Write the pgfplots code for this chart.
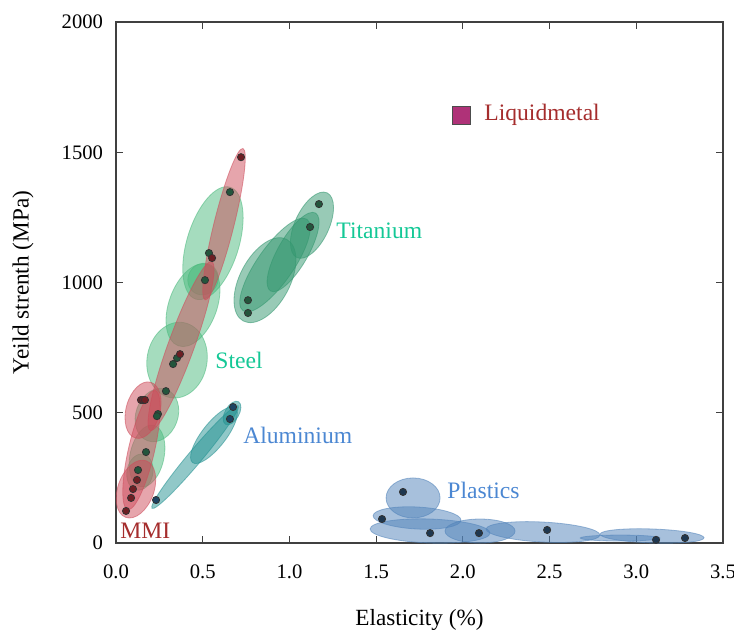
\documentclass[border=0pt]{standalone}
\usepackage{fontspec}
\setmainfont{Liberation Serif}
\usepackage{pgfplots}
\pgfplotsset{compat=1.18}

\definecolor{cred}{RGB}{205,75,90}
\definecolor{cgreen}{RGB}{75,185,125}
\definecolor{ctitan}{RGB}{50,150,110}
\definecolor{calu}{RGB}{35,145,145}
\definecolor{cplast}{RGB}{80,130,185}
\definecolor{dotgreen}{RGB}{35,85,60}
\definecolor{dotred}{RGB}{110,30,35}
\definecolor{dotblue}{RGB}{30,55,80}
\definecolor{labred}{RGB}{165,45,45}
\definecolor{labgreen}{RGB}{20,200,150}
\definecolor{labblue}{RGB}{75,135,210}
\definecolor{cliquid}{RGB}{175,50,120}

% ellipse region: colour, x, y, semi-minor (pt), aspect, angle
\newcommand{\Ell}[6]{%
  \addplot[only marks, mark=*, mark size=#4pt,
    mark options={rotate=#6, xscale=#5, fill=#1, draw=#1,
      fill opacity=0.5, draw opacity=0.55, line width=0.4pt}]
    coordinates {(#2,#3)};}

\begin{document}
\begin{tikzpicture}
\useasboundingbox (-58pt,-45pt) rectangle (309pt,271.5pt);
\begin{axis}[
  at={(0,0)}, anchor=south west,
  scale only axis, width=303.5pt, height=260.5pt,
  xmin=0, xmax=3.5, ymin=0, ymax=2000,
  xtick={0,0.5,1,1.5,2,2.5,3,3.5}, ytick={0,500,1000,1500,2000},
  tick align=inside, major tick length=3.5pt,
  axis line style={black!75, line width=0.7pt},
  tick style={black!75, line width=0.6pt},
  xticklabel style={yshift=-7.5pt, /pgf/number format/.cd, fixed, fixed zerofill, precision=1, assume math mode=true},
  yticklabel style={xshift=-3pt, /pgf/number format/.cd, fixed, 1000 sep={}, assume math mode=true},
  scaled ticks=false,
  ticklabel style={font=\fontsize{10.3}{12}\selectfont},
  xlabel={Elasticity (\%)}, ylabel={Yeild strenth (MPa)},
  label style={font=\fontsize{11.6}{13}\selectfont},
  xlabel style={at={(axis description cs:0.5,-0.148)}, anchor=center},
  ylabel style={at={(axis description cs:-0.153,0.5)}, anchor=center},
  clip=false,
]
% Plastics
\Ell{cplast}{1.811}{46}{6}{5}{-2}
\Ell{cplast}{1.736}{96}{5.5}{4}{-3}
\Ell{cplast}{2.099}{46}{6}{2.92}{0}
\Ell{cplast}{2.462}{42}{5}{5.7}{-3}
\Ell{cplast}{2.907}{19}{1.5}{13.3}{0}
\Ell{cplast}{3.091}{27}{3.5}{7.43}{-2}
\Ell{cplast}{1.713}{173}{10}{1.35}{0}
% Aluminium
\Ell{calu}{0.456}{330}{3.5}{9.57}{50}
\Ell{calu}{0.565}{414}{6}{2.9}{52}
\Ell{calu}{0.669}{499}{3.5}{1.86}{60}
% Titanium
\Ell{ctitan}{0.859}{1009}{12.5}{1.85}{62}
\Ell{ctitan}{0.917}{1067}{9}{3.1}{55}
\Ell{ctitan}{1.021}{1117}{7.5}{3.0}{60}
\Ell{ctitan}{1.130}{1220}{8.5}{2.1}{65}
% Steel
\Ell{cgreen}{0.559}{1151}{13}{2.25}{73}
\Ell{cgreen}{0.444}{913}{12}{1.8}{70}
\Ell{cgreen}{0.502}{1013}{7.5}{1.07}{60}
\Ell{cgreen}{0.352}{702}{15}{1.27}{80}
\Ell{cgreen}{0.236}{491}{10.5}{1.3}{70}
\Ell{cgreen}{0.179}{334}{8.5}{1.85}{78}
\Ell{cgreen}{0.138}{272}{6.5}{1.4}{80}
% MMI / red
\Ell{cred}{0.623}{1224}{5}{7.8}{76}
\Ell{cred}{0.375}{756}{6.5}{6.9}{70}
\Ell{cred}{0.156}{510}{8.5}{1.7}{75}
\Ell{cred}{0.147}{357}{6.5}{4.7}{77}
\Ell{cred}{0.115}{207}{9}{1.67}{70}

% data points
\addplot[only marks, mark=*, mark size=1.8pt, mark options={fill=dotgreen, draw=black!80, line width=0.4pt}]
  coordinates {(0.657,1347) (0.536,1113) (0.513,1009) (0.352,710) (0.329,687)
    (0.288,583) (0.242,495) (0.236,487) (0.173,349) (0.127,280)};
\addplot[only marks, mark=*, mark size=1.8pt, mark options={fill=dotred, draw=black!80, line width=0.4pt}]
  coordinates {(0.721,1481) (0.554,1094) (0.369,725) (0.144,549) (0.156,549) (0.167,549)
    (0.121,242) (0.098,207) (0.087,173) (0.058,123)};
\addplot[only marks, mark=*, mark size=1.8pt, mark options={fill=dotgreen, draw=black!80, line width=0.4pt}]
  coordinates {(1.170,1301) (1.119,1213) (0.761,932) (0.761,883)};
\addplot[only marks, mark=*, mark size=1.8pt, mark options={fill=dotgreen!80!blue, draw=black!80, line width=0.4pt}]
  coordinates {(0.231,165) (0.657,476) (0.675,522)};
\addplot[only marks, mark=*, mark size=1.8pt, mark options={fill=dotblue, draw=black!80, line width=0.4pt}]
  coordinates {(1.655,196) (1.534,92) (1.811,38) (2.093,38) (2.486,50) (3.114,12) (3.281,19)};
\addplot[only marks, mark=square*, mark size=4.5pt, mark options={fill=cliquid, draw=black!70, line width=0.5pt}]
  coordinates {(1.99,1642)};

% labels
\begin{scope}[every node/.style={anchor=west, inner sep=0pt, font=\fontsize{11.8}{13}\selectfont}]
\node[text=labred] at (axis cs:2.122,1642) {Liquidmetal};
\node[text=labgreen] at (axis cs:1.269,1197) {Titanium};
\node[text=labgreen] at (axis cs:0.571,702) {Steel};
\node[text=labblue] at (axis cs:0.732,414) {Aluminium};
\node[text=labblue] at (axis cs:1.909,203) {Plastics};
\node[text=labred] at (axis cs:0.023,46) {MMI};
\end{scope}
\end{axis}
\end{tikzpicture}
\end{document}
